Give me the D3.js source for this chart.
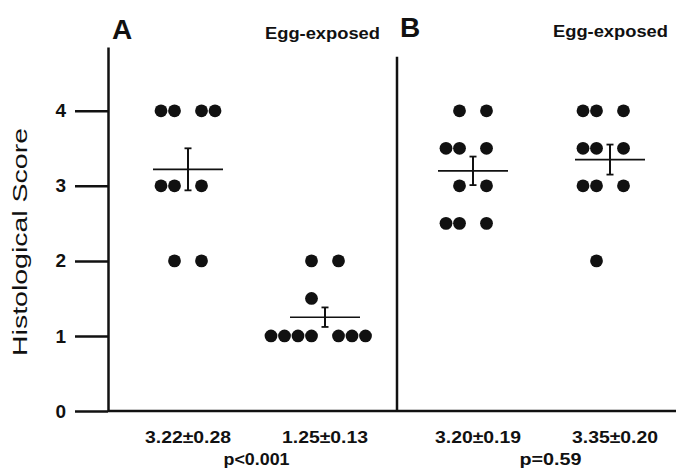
<!DOCTYPE html>
<html>
<head>
<meta charset="utf-8">
<script src="https://cdn.jsdelivr.net/npm/d3@7"></script>
<style>
  body { margin: 0; background: #fff; }
  svg { display: block; font-family: "Liberation Sans", Arial, sans-serif; }
</style>
</head>
<body>
<svg id="chart" width="676" height="469"></svg>
<script>
// histological scores, one value per animal
const panels = ["A", "B"];
const groupNames = ["Control", "Egg-exposed"];
const scoresA = [
    [4, 4, 4, 4, 3, 3, 3, 2, 2],
    [2, 2, 1.5, 1, 1, 1, 1, 1, 1, 1]
];
const scoresB = [
    [4, 4, 3.5, 3.5, 3.5, 3, 3, 2.5, 2.5, 2.5],
    [4, 4, 4, 3.5, 3.5, 3.5, 3, 3, 3, 2]
];
const meansA = [3.22, 1.25];
const semsA = [0.28, 0.13];
const meansB = [3.20, 3.35];
const semsB = [0.19, 0.20];
const pValues = ["p<0.001", "p=0.59"];
const yTicks = [0, 1, 2, 3, 4];

const svg = d3.select('#chart');
const W = 676;
const ink = '#111';

let y = d3.scaleLinear().domain([0, 4.85]).range([411, 47]);

// x layout of the two panels
const panelX = {
    A: d3.scalePoint().domain(groupNames).range([188, 325]),
    B: d3.scalePoint().domain(groupNames).range([473, 610])
};
const slotX = d3.scaleLinear().domain([-1, 1]).range([-13.5, 13.5]);

// dots in one row fill slots from the left, skipping the centre column
function slots(n){
    let s = [], k = -Math.ceil(n/2);
    while(s.length < n){ if(k !== 0) s.push(k); k++; }
    return s;
}

// y axis
let yAxis = svg.append('g')
    .attr('transform', 'translate(108,0)')
    .call(d3.axisLeft(y).tickValues(yTicks).tickFormat(d3.format('d')).tickSize(33).tickSizeOuter(0).tickPadding(9));
yAxis.select('.domain').attr('stroke', ink).attr('stroke-width', 2.5);
yAxis.selectAll('.tick line').attr('stroke', ink).attr('stroke-width', 2.5);
yAxis.selectAll('.tick text').attr('fill', ink)
    .attr('font-size', 19).attr('font-weight', 'bold')
    .attr('font-family', '"Liberation Sans", Arial, sans-serif');

// baseline and panel divider
svg.append('line')
    .attr('x1', 108).attr('x2', W).attr('y1', y(0)).attr('y2', y(0))
    .attr('stroke', ink).attr('stroke-width', 2.5);
svg.append('line')
    .attr('x1', 397).attr('x2', 397).attr('y1', y(4.72)).attr('y2', y(0))
    .attr('stroke', ink).attr('stroke-width', 2.5);

svg.append('text')
    .attr('transform', 'translate(27,242) rotate(-90)')
    .attr('text-anchor', 'middle')
    .attr('textLength', 228).attr('lengthAdjust', 'spacingAndGlyphs')
    .style('font-size', '21px').attr('fill', ink)
    .text('Histological Score');

const panelData = {
    A: {scores: scoresA, means: meansA, sems: semsA, p: pValues[0], pLen: 66, titleX: 112, titleY: 39, eggX: 265, eggY: 39},
    B: {scores: scoresB, means: meansB, sems: semsB, p: pValues[1], pLen: 62, titleX: 400, titleY: 37, eggX: 553, eggY: 37}
};

panels.forEach(p => {
    let pd = panelData[p];
    let x = panelX[p];
    let g = svg.append('g').attr('class', 'panel' + p);

    g.append('text').attr('x', pd.titleX).attr('y', pd.titleY)
        .style('font-size', '28px').style('font-weight', 'bold').attr('fill', ink).text(p);
    g.append('text').attr('x', pd.eggX).attr('y', pd.eggY)
        .attr('textLength', 115).attr('lengthAdjust', 'spacingAndGlyphs')
        .style('font-size', '16px').style('font-weight', 'bold').attr('fill', ink).text('Egg-exposed');

    groupNames.forEach((gn, gi) => {
        let cx = x(gn);
        let dots = [];
        d3.group(pd.scores[gi], d => d).forEach((vals, v) => {
            slots(vals.length).forEach(s => dots.push({v: v, s: s}));
        });
        g.selectAll('circle.g' + gi)
            .data(dots).enter().append('circle')
            .attr('class', 'g' + gi)
            .attr('cx', d => cx + slotX(d.s))
            .attr('cy', d => y(d.v))
            .attr('r', 6.4)
            .attr('fill', ink);

        let m = pd.means[gi], e = pd.sems[gi];
        g.append('line')
            .attr('x1', cx - 35).attr('x2', cx + 35).attr('y1', y(m)).attr('y2', y(m))
            .attr('stroke', ink).attr('stroke-width', 1.6);
        g.append('line')
            .attr('x1', cx).attr('x2', cx).attr('y1', y(m + e)).attr('y2', y(m - e))
            .attr('stroke', ink).attr('stroke-width', 2);
        [m + e, m - e].forEach(v => {
            g.append('line')
                .attr('x1', cx - 3.5).attr('x2', cx + 3.5).attr('y1', y(v)).attr('y2', y(v))
                .attr('stroke', ink).attr('stroke-width', 1.8);
        });

        g.append('text').attr('x', cx + (p === 'B' ? 5 : 0)).attr('y', 443)
            .attr('text-anchor', 'middle')
            .attr('textLength', 86).attr('lengthAdjust', 'spacingAndGlyphs')
            .style('font-size', '16px').style('font-weight', 'bold').attr('fill', ink)
            .text(`${m.toFixed(2)}\u00B1${e.toFixed(2)}`);
    });

    let mid = (x(groupNames[0]) + x(groupNames[1])) / 2;
    g.append('text').attr('x', mid + (p === 'B' ? 9 : 0)).attr('y', 465)
        .attr('text-anchor', 'middle')
        .attr('textLength', pd.pLen).attr('lengthAdjust', 'spacingAndGlyphs')
        .style('font-size', '16px').style('font-weight', 'bold').attr('fill', ink)
        .text(pd.p);
});
</script>
</body>
</html>
